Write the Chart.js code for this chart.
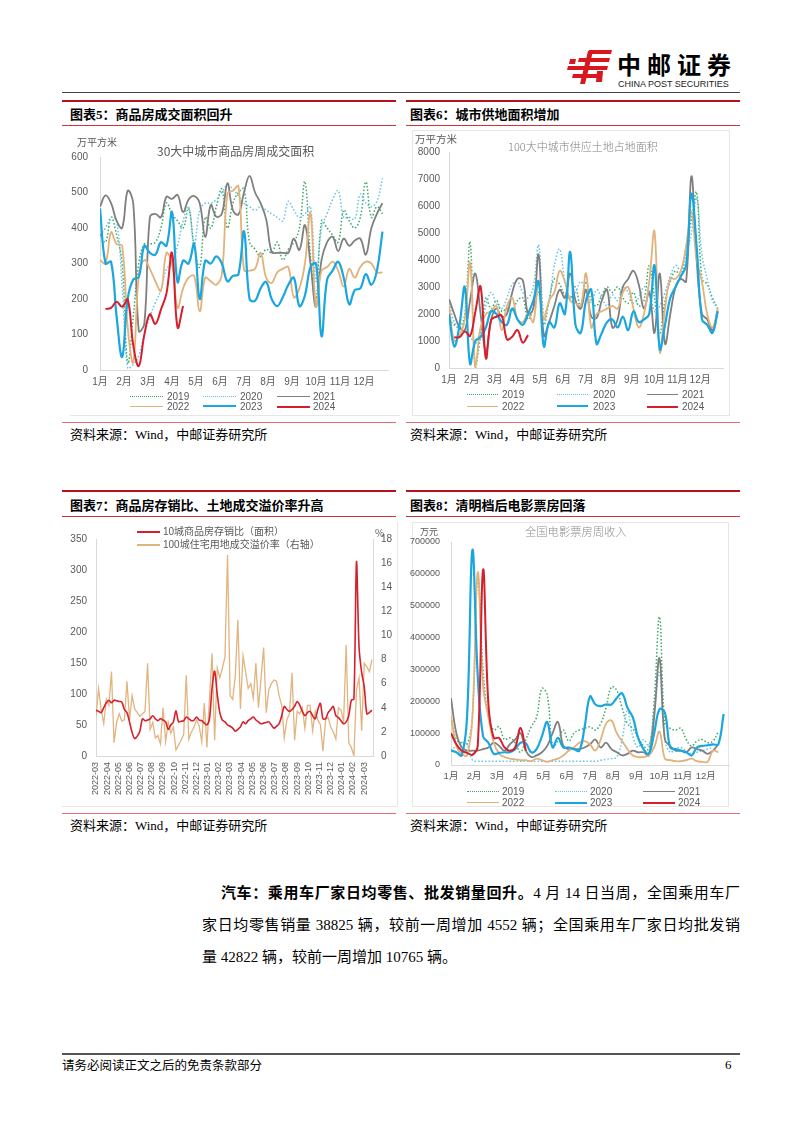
<!DOCTYPE html>
<html lang="zh-CN">
<head>
<meta charset="utf-8">
<title>图表5-8</title>
<script src="https://cdn.jsdelivr.net/npm/chart.js@4.4.1/dist/chart.umd.min.js"></script>
<style>
  html, body { margin: 0; padding: 0; background: #fff; }
  body { position: relative; width: 802px; height: 1133px; overflow: hidden;
         font-family: "Liberation Serif", "Noto Sans CJK SC", serif; color: #000; }
  .rule { position: absolute; height: 0; }
  .r-top { border-top: 2px solid #b5121b; }
  .r-mid { border-top: 1px solid #c8363a; }
  .r-bot { border-top: 1px solid #e07070; }
  .ptitle { position: absolute; font: 700 13px/18px "Liberation Serif", "Noto Sans CJK SC", serif; white-space: nowrap; }
  .src { position: absolute; font: 13px/16px "Liberation Serif", "Noto Sans CJK SC", serif; white-space: nowrap; }
  .frame { position: absolute; border: 1px solid #e6e6e6; box-sizing: border-box; }
  canvas { position: absolute; }
  .ctitle { position: absolute; white-space: nowrap; font-family: "Noto Sans CJK SC", sans-serif; }
  .unit { position: absolute; white-space: nowrap; color: #595959; font-family: "Noto Sans CJK SC", sans-serif; }
  .lg-line { position: absolute; height: 0; }
  .lg-text { position: absolute; white-space: nowrap; color: #595959;
             font: 10px/12px "Liberation Sans", "Noto Sans CJK SC", sans-serif; }
  .para { position: absolute; font: 15px/20px "Liberation Serif", "Noto Sans CJK SC", serif;
          text-align: justify; text-align-last: justify; }
  .para b { font-family: "Noto Sans CJK SC", sans-serif; font-weight: 700; }
</style>
</head>
<body>

<!-- 页眉 -->
<svg style="position:absolute;left:567px;top:50px" width="46" height="34" viewBox="0 0 46 34">
  <g fill="#d7181f">
    <polygon points="22,0 45,0 44,4 21,4"/>
    <polygon points="12,8 43,8 42,12 11,12"/>
    <polygon points="1,16 41,16 40,20 0,20"/>
    <polygon points="6,24 34,24 33,28 5,28"/>
    <polygon points="21,1 26,1 18,34 13,34"/>
    <polygon points="3,9 9,9 8,14 2,14"/>
    <polygon points="30,21 36,21 35,32 29,32"/>
  </g>
</svg>
<div style="position:absolute;left:617px;top:49px;font:700 24px/30px 'Noto Sans CJK SC',sans-serif;letter-spacing:6px;white-space:nowrap">中邮证券</div>
<div style="position:absolute;left:618px;top:79px;font:9px/10px 'Liberation Sans',sans-serif;color:#222;white-space:nowrap">CHINA POST SECURITIES</div>
<div class="rule" style="left:62px;top:92px;width:678px;border-top:1px solid #444"></div>

<!-- 图表5 / 图表6 标题区 -->
<div class="rule r-top" style="left:62px;top:100px;width:334px"></div>
<div class="rule r-top" style="left:406px;top:100px;width:334px"></div>
<div class="ptitle" style="left:70px;top:106px">图表5：商品房成交面积回升</div>
<div class="ptitle" style="left:410px;top:106px">图表6：城市供地面积增加</div>
<div class="rule r-mid" style="left:62px;top:125px;width:334px"></div>
<div class="rule r-mid" style="left:406px;top:125px;width:334px"></div>

<div class="rule" style="left:70px;top:415px;width:330px;border-top:1px solid #e6e6e6"></div>
<div class="frame" style="left:412px;top:130px;width:318px;height:286px"></div>

<canvas id="c5" width="334" height="292" style="left:62px;top:128px"></canvas>
<canvas id="c6" width="334" height="292" style="left:406px;top:128px"></canvas>

<div class="unit" style="left:77px;top:136px;font-size:10px;line-height:12px">万平方米</div>
<div class="ctitle" style="left:157px;top:143px;font-size:12px;line-height:15px;color:#595959">30大中城市商品房周成交面积</div>
<div class="unit" style="left:415px;top:132px;font-size:10.5px;line-height:13px">万平方米</div>
<div class="ctitle" style="left:508px;top:139px;font-size:11px;line-height:14px;color:#7f7f7f;font-weight:300">100大中城市供应土地占地面积</div>

<div class="rule r-bot" style="left:62px;top:422px;width:334px"></div>
<div class="rule r-bot" style="left:406px;top:422px;width:334px"></div>
<div class="src" style="left:70px;top:427px">资料来源：Wind，中邮证券研究所</div>
<div class="src" style="left:410px;top:427px">资料来源：Wind，中邮证券研究所</div>

<!-- 图表7 / 图表8 标题区 -->
<div class="rule r-top" style="left:62px;top:490px;width:334px"></div>
<div class="rule r-top" style="left:406px;top:490px;width:334px"></div>
<div class="ptitle" style="left:70px;top:497px">图表7：商品房存销比、土地成交溢价率升高</div>
<div class="ptitle" style="left:410px;top:497px">图表8：清明档后电影票房回落</div>
<div class="rule r-mid" style="left:62px;top:516px;width:334px"></div>
<div class="rule r-mid" style="left:406px;top:516px;width:334px"></div>

<div class="frame" style="left:62px;top:522px;width:336px;height:285px;border-left:none;border-top:none"></div>
<div class="frame" style="left:412px;top:522px;width:317px;height:285px"></div>

<canvas id="c7" width="334" height="292" style="left:62px;top:520px"></canvas>
<canvas id="c8" width="334" height="292" style="left:406px;top:520px"></canvas>

<div class="unit" style="left:375px;top:527px;font-size:10px;line-height:12px">%</div>
<div class="unit" style="left:420px;top:526px;font-size:9px;line-height:11px">万元</div>
<div class="ctitle" style="left:525px;top:524px;font-size:11.3px;line-height:15px;color:#8c8c8c;font-weight:300">全国电影票房周收入</div>

<div class="rule r-bot" style="left:62px;top:813px;width:334px"></div>
<div class="rule r-bot" style="left:406px;top:813px;width:334px"></div>
<div class="src" style="left:70px;top:818px">资料来源：Wind，中邮证券研究所</div>
<div class="src" style="left:410px;top:818px">资料来源：Wind，中邮证券研究所</div>

<!-- 正文 -->
<div class="para" style="left:221px;top:882px;width:519px"><b>汽车：乘用车厂家日均零售、批发销量回升。</b>4 月 14 日当周，全国乘用车厂</div>
<div class="para" style="left:202px;top:915px;width:538px">家日均零售销量 38825 辆，较前一周增加 4552 辆；全国乘用车厂家日均批发销</div>
<div class="para" style="left:202px;top:947px;width:538px;text-align-last:left">量 42822 辆，较前一周增加 10765 辆。</div>

<!-- 页脚 -->
<div class="rule" style="left:62px;top:1053px;width:678px;border-top:2px solid #555"></div>
<div style="position:absolute;left:62px;top:1057px;font:12.5px/15px 'Noto Sans CJK SC',sans-serif;white-space:nowrap">请务必阅读正文之后的免责条款部分</div>
<div style="position:absolute;left:725px;top:1057px;font:13px/15px 'Liberation Serif',serif">6</div>

<script>
// ---- 坐标轴标签 ----
const MONTHS = ['1月', '2月', '3月', '4月', '5月', '6月', '7月', '8月', '9月', '10月', '11月', '12月'];
const YEARS = ['2019', '2020', '2021', '2022', '2023', '2024'];
const MONTHS7 = ['2022-03', '2022-04', '2022-05', '2022-06', '2022-07', '2022-08', '2022-09', '2022-10',
  '2022-11', '2022-12', '2023-01', '2023-02', '2023-03', '2023-04', '2023-05', '2023-06', '2023-07',
  '2023-08', '2023-09', '2023-10', '2023-11', '2023-12', '2024-01', '2024-02', '2024-03'];

// ---- 图表5：30大中城市商品房周成交面积（万平方米），按周 ----
const C5_2019 = [380,360,430,380,300,20,150,300,355,355, 360,400,470,440,420,400,455,350,290,430,
  400,460,510,400,470,500,510,360,340,320, 340,330,360,310,340,360,400,530,320,200,
  420,400,380,360,450,420,400,430,530,430, 460,440];
const C5_2020 = [380,400,430,420,235,5,15,40,100,150, 190,225,285,300,350,420,460,350,450,470,
  470,480,500,520,510,490,470,460,450,460, 450,440,430,420,475,450,430,440,460,250,
  400,440,480,505,430,430,425,495,470,460, 475,540];
const C5_2021 = [460,492,470,420,400,505,470,110,130,430, 440,430,488,482,493,445,480,490,470,375,
  465,432,440,526,450,438,500,547,500,470, 425,332,330,330,330,370,338,408,300,178,
  310,360,375,335,370,350,365,370,325,400, 440,470];
const C5_2022 = [310,300,388,355,350,120,22,265,310,285, 250,223,330,300,175,230,260,265,165,260,
  250,240,270,497,505,518,282,280,285,330, 260,245,275,285,290,205,230,300,442,180,
  280,290,305,280,235,285,260,290,305,300, 275,275];
const C5_2023 = [455,300,305,150,37,200,255,262,350,330, 325,360,350,445,248,308,300,355,200,308,
  300,320,300,250,265,270,390,200,195,230, 248,200,180,205,240,260,180,210,290,300,
  95,255,280,305,260,185,225,230,270,240, 280,390];
const C5_2024 = [null,172,175,192,178,199,70,11,99,157,130,170,216,330,120,180];

// ---- 图表6：100大中城市供应土地占地面积（万平方米），按周 ----
const C6_2019 = [1800,1600,1500,2000,4650,0,1200,2600,2200,2500, 2100,2200,2100,2500,2600,1800,2200,2800,1600,2500,
  3300,3100,2700,2600,3000,2200,3200,2500,2300,2700, 3000,2800,3000,2600,2400,2800,2300,2500,3800,2600,
  1300,2500,3200,3600,3400,4500,5500,6500,3300,3100, 2600,2200];
const C6_2020 = [2400,1700,1500,1600,1200,900,1500,2300,2800,2400, 2200,2600,3100,3200,2800,2600,3000,4550,2000,2500,
  3800,4400,3200,2600,2800,3200,2800,2400,2900,2600, 2300,2700,2500,3000,2800,2400,2600,3000,2900,2100,
  2300,2800,3400,3800,3600,4200,5000,6300,4200,3300, 2500,2200];
const C6_2021 = [2550,2000,1500,1400,2500,3500,2000,600,1800,2200, 1900,2000,2800,3300,3250,2000,2200,4200,1200,1700,
  2300,2900,2600,3500,2500,2200,2900,1900,1850,2500, 2900,1500,1800,3000,3300,3600,3100,2200,2800,1300,
  3500,900,2000,3000,3300,3200,7100,4000,2000,1800, 1400,2100];
const C6_2022 = [2300,1000,1200,1800,3900,0,1500,2000,2100,2300, 1400,2300,2600,1800,1700,2000,1700,3200,1800,2500,
  2800,3600,3200,2500,2400,2300,3500,1500,2000,2100, 2200,2300,2200,2800,3000,2200,1500,2000,3200,5050,
  600,2200,3300,3300,3600,4500,5800,4000,3200,2000, 1500,2200];
const C6_2023 = [2000,800,1600,3000,150,1000,1150,1500,2100,2000, 1700,1600,2200,1800,1600,2000,2500,3200,800,1700,
  1500,2400,2000,4300,1600,1300,2500,2900,900,1300, 1700,1800,1500,1900,1400,2100,1700,1800,2000,3800,
  700,1600,2600,3000,3400,3800,6450,4500,1800,1600, 1300,2100];
const C6_2024 = [null,1140,1140,1350,1190,2080,3010,360,1780,1900,1940,1060,1160,1400,940,1220];

// ---- 图表7：10城商品房存销比（左轴）与100城住宅用地成交溢价率%（右轴），按周 ----
const C7_RATIO = [74,72,70,78,86,90,86,90,89,88, 87,75,70,55,38,28,32,40,60,57,
  58,60,65,60,57,60,58,55,43,50, 55,73,55,56,57,63,60,57,58,63,
  58,57,53,50,60,110,137,100,70,58, 55,50,48,45,40,43,47,55,52,57,
  60,63,58,55,52,53,54,55,50,45, 48,52,65,80,75,72,75,80,88,82,
  72,65,70,72,65,60,75,85,60,60, 70,75,80,65,62,57,52,55,65,90,
  92,313,175,135,112,68,70,74];
const C7_PREMIUM = [3.3,5.6,3.8,2.7,4.7,4.2,7.0,1.1,2.8,3.5, 2.9,3.0,6.2,3.0,5.0,3.9,3.6,3.3,3.5,3.7,
  7.7,2.2,2.8,1.5,1.7,1.0,4.0,1.2,2.8,1.9, 2.4,0.5,0.9,1.3,1.8,6.7,1.4,2.0,2.4,3.0,
  2.5,1.2,4.4,0.7,4.8,8.5,1.3,7.3,6.5,7.3, 8.2,16.7,5.0,4.7,6.6,11.3,3.9,8.3,7.0,5.6,
  6.0,4.8,7.7,4.0,6.5,9.0,3.6,5.5,6.0,6.3, 6.2,5.0,4.2,1.5,3.0,3.5,6.9,1.3,3.7,3.5,
  4.0,2.3,4.2,4.2,2.1,3.7,3.0,2.6,0.4,3.0, 3.2,2.4,2.0,1.4,4.0,3.8,2.9,9.2,1.1,0.7,
  0.0,5.5,6.5,2.1,7.7,7.4,7.0,8.0];

// ---- 图表8：全国电影票房周收入（万元），按周 ----
const C8_2019 = [150000,80000,70000,65000,150000,590000,300000,150000,110000,120000,
  80000,85000,70000,40000,80000,120000,150000,240000,220000,60000,
  75000,110000,75000,100000,110000,115000,120000,110000,130000,180000,
  245000,235000,180000,130000,115000,85000,60000,50000,200000,465000,
  130000,115000,110000,115000,80000,60000,75000,80000,70000,75000, 105000,null];
const C8_2020 = [45000,60000,70000,65000,15000,12000,12000,12000,12000,12000,
  12000,12000,12000,12000,12000,12000,12000,12000,12000,12000,
  12000,12000,12000,12000,12000,12000,12000,12000,15000,18000,
  20000,25000,80000,170000,90000,55000,80000,60000,170000,290000,
  80000,40000,50000,55000,45000,35000,40000,45000,50000,55000, null,null];
const C8_2021 = [210000,100000,55000,45000,45000,45000,50000,55000,70000,60000,
  45000,65000,80000,100000,45000,25000,30000,40000,60000,100000,
  135000,60000,50000,50000,50000,55000,65000,80000,55000,70000,
  50000,40000,30000,35000,45000,40000,40000,30000,150000,335000,
  80000,60000,45000,45000,40000,55000,50000,45000,35000,45000, 65000,null];
const C8_2022 = [155000,60000,35000,30000,150000,605000,250000,150000,70000,35000,
  25000,20000,18000,15000,15000,12000,20000,15000,10000,15000,
  20000,30000,45000,55000,70000,75000,65000,45000,80000,130000,
  140000,100000,75000,50000,30000,25000,25000,30000,55000,105000,
  20000,15000,12000,12000,15000,20000,12000,10000,10000,45000, 40000,null];
const C8_2023 = [45000,40000,30000,150000,675000,280000,90000,70000,35000,38000,
  40000,40000,50000,70000,68000,40000,50000,90000,135000,55000,
  85000,55000,55000,50000,45000,120000,215000,190000,185000,190000,
  190000,210000,225000,180000,150000,85000,50000,35000,100000,175000,
  165000,55000,50000,45000,40000,30000,55000,60000,62000,65000, 65000,160000];
const C8_2024 = [100000,65000,45000,38000,32000,60000,613000,190000,85000,85000,55000,45000,55000,116000,45000];

// ---- 样式 ----
const YEAR_STYLE = [
  { color: '#3aa864', width: 1.5, dash: [1.5, 2] },
  { color: '#62c3ea', width: 1.5, dash: [1.5, 2] },
  { color: '#7f7f7f', width: 1.8, dash: [] },
  { color: '#e2b27c', width: 1.8, dash: [] },
  { color: '#1aa6df', width: 2.2, dash: [] },
  { color: '#d41f2c', width: 2, dash: [] },
];
const AXIS_COLOR = '#d9d9d9';

Chart.defaults.font.family = "'Liberation Sans', 'Noto Sans CJK SC', sans-serif";
Chart.defaults.font.size = 10;
Chart.defaults.color = '#595959';
Chart.defaults.animation = false;

function weeklyChart(id, series, layout) {
  const datasets = series.map((vals, k) => ({
    label: YEARS[k],
    data: vals.map((v, i) => ({ x: i, y: v })),
    borderColor: YEAR_STYLE[k].color,
    backgroundColor: YEAR_STYLE[k].color,
    borderWidth: YEAR_STYLE[k].width,
    borderDash: YEAR_STYLE[k].dash,
    pointRadius: 0,
    tension: 0.4,
    order: series.length - k, // 2024 画在最上层
  }));

  return new Chart(document.getElementById(id), {
    type: 'line',
    data: { datasets },
    options: {
      responsive: false,
      layout: { padding: layout.pad },
      plugins: { legend: { display: false }, tooltip: { enabled: false } },
      scales: {
        x: {
          type: 'linear', min: 0, max: 52,
          afterBuildTicks: (s) => { s.ticks = MONTHS.map((_, i) => ({ value: i * 52 / 12 })); },
          afterFit: (s) => { s.height = 20; },
          ticks: { callback: (v, i) => MONTHS[i], autoSkip: false, maxRotation: 0, padding: 6,
                   font: { size: layout.xFont } },
          grid: { drawOnChartArea: false, drawTicks: false },
          border: { color: AXIS_COLOR },
        },
        y: {
          min: 0, max: layout.yMax,
          afterFit: (s) => { s.width = layout.yWidth; },
          ticks: { stepSize: layout.yStep, padding: layout.yPad, callback: (v) => String(v),
                   font: { size: layout.yFont } },
          grid: { drawOnChartArea: false, drawTicks: false },
          border: { color: AXIS_COLOR },
        },
      },
    },
  });
}

// HTML 图例：两行三列
function yearLegend(sampleX, textX, rowsY, sampleW) {
  YEARS.forEach((yr, k) => {
    const col = k % 3, row = Math.floor(k / 3);
    const st = YEAR_STYLE[k];
    const line = document.createElement('div');
    line.className = 'lg-line';
    line.style.cssText = `left:${sampleX[col]}px;top:${rowsY[row] - st.width / 2}px;width:${sampleW}px;` +
      `border-top:${st.width}px ${st.dash.length ? 'dotted' : 'solid'} ${st.color}`;
    document.body.appendChild(line);
    const txt = document.createElement('div');
    txt.className = 'lg-text';
    txt.style.left = textX[col] + 'px';
    txt.style.top = (rowsY[row] - 6) + 'px';
    txt.textContent = yr;
    document.body.appendChild(txt);
  });
}

weeklyChart('c5', [C5_2019, C5_2020, C5_2021, C5_2022, C5_2023, C5_2024],
  { pad: { top: 29, bottom: 30, left: 0, right: 8 }, yWidth: 38, yPad: 12, yMax: 600, yStep: 100, yFont: 10, xFont: 10 });
weeklyChart('c6', [C6_2019, C6_2020, C6_2021, C6_2022, C6_2023, C6_2024],
  { pad: { top: 24, bottom: 32, left: 0, right: 17 }, yWidth: 43, yPad: 9, yMax: 8000, yStep: 1000, yFont: 10, xFont: 10 });
weeklyChart('c8', [C8_2019, C8_2020, C8_2021, C8_2022, C8_2023, C8_2024],
  { pad: { top: 22, bottom: 27, left: 0, right: 11 }, yWidth: 45, yPad: 11, yMax: 700000, yStep: 100000, yFont: 9, xFont: 9.5 });

yearLegend([130, 203, 277], [167, 240, 313], [396.5, 406.5], 33);
yearLegend([467, 557, 647], [502, 593, 682], [395, 406.5], 31);
yearLegend([467, 555, 643], [502, 590, 678], [791.7, 802.7], 32);

// 图表7：双轴
new Chart(document.getElementById('c7'), {
  type: 'line',
  data: {
    datasets: [
      {
        label: '10城商品房存销比（面积）',
        data: C7_RATIO.map((v, i) => ({ x: i, y: v })),
        yAxisID: 'y',
        borderColor: '#d71f2d', backgroundColor: '#d71f2d',
        borderWidth: 1.6, pointRadius: 0, tension: 0.3, order: 0,
      },
      {
        label: '100城住宅用地成交溢价率（右轴）',
        data: C7_PREMIUM.map((v, i) => ({ x: i, y: v })),
        yAxisID: 'y1',
        borderColor: '#e2b47f', backgroundColor: '#e2b47f',
        borderWidth: 1.3, pointRadius: 0, tension: 0, order: 1,
      },
    ],
  },
  options: {
    responsive: false,
    layout: { padding: { top: 19, bottom: 11, left: 0, right: 0 } },
    plugins: { legend: { display: false }, tooltip: { enabled: false } },
    scales: {
      x: {
        type: 'linear', min: 0, max: 107.4,
        afterBuildTicks: (s) => { s.ticks = MONTHS7.map((_, i) => ({ value: i * 4.33 })); },
        afterFit: (s) => { s.height = 45; },
        ticks: { callback: (v, i) => MONTHS7[i], autoSkip: false, minRotation: 90, maxRotation: 90,
                 padding: 6, font: { size: 9 } },
        grid: { drawOnChartArea: false, drawTicks: false },
        border: { color: AXIS_COLOR },
      },
      y: {
        position: 'left', min: 0, max: 350,
        afterFit: (s) => { s.width = 34; },
        ticks: { stepSize: 50, padding: 9 },
        grid: { drawOnChartArea: false, drawTicks: false },
        border: { color: AXIS_COLOR },
      },
      y1: {
        position: 'right', min: 0, max: 18,
        afterFit: (s) => { s.width = 23; },
        ticks: { stepSize: 2, padding: 8 },
        grid: { drawOnChartArea: false, drawTicks: false },
        border: { color: AXIS_COLOR },
      },
    },
  },
});

// 图表7 图例（纵向两行）
[
  { text: '10城商品房存销比（面积）', color: '#d71f2d', y: 531.7 },
  { text: '100城住宅用地成交溢价率（右轴）', color: '#e2b47f', y: 545 },
].forEach((it) => {
  const line = document.createElement('div');
  line.className = 'lg-line';
  line.style.cssText = `left:137px;top:${it.y - 1}px;width:23px;border-top:2px solid ${it.color}`;
  document.body.appendChild(line);
  const txt = document.createElement('div');
  txt.className = 'lg-text';
  txt.style.left = '163px';
  txt.style.top = (it.y - 6) + 'px';
  txt.textContent = it.text;
  document.body.appendChild(txt);
});
</script>
</body>
</html>
